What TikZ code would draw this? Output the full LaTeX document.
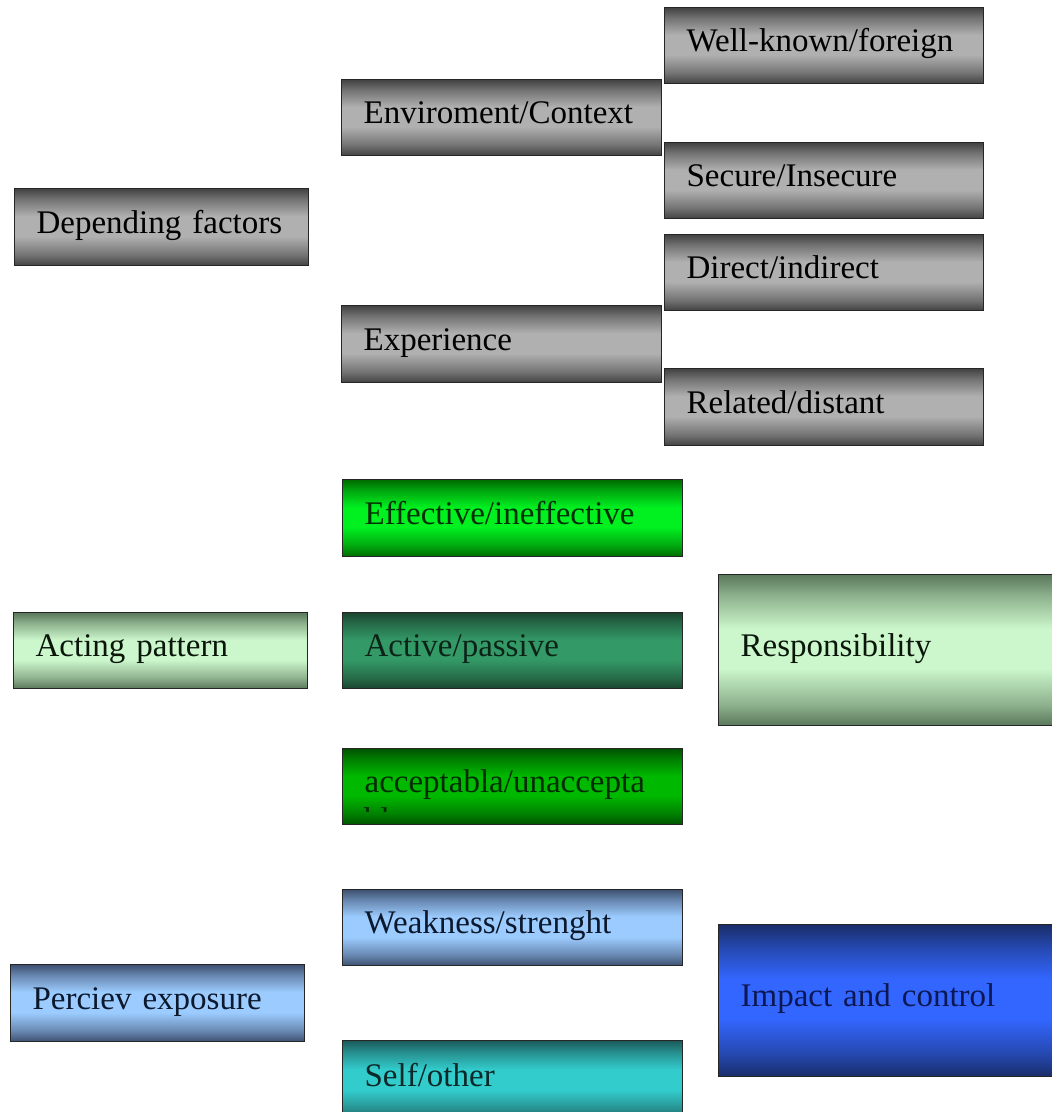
\documentclass[tikz,border=0pt]{standalone}
\usepackage{fontspec}
\setmainfont{Liberation Serif}
\definecolor{grayD}{HTML}{424242}
\definecolor{grayL}{HTML}{B0B0B0}
\definecolor{effD}{HTML}{006A00}
\definecolor{effL}{HTML}{00F020}
\definecolor{actD}{HTML}{1B4430}
\definecolor{actL}{HTML}{339966}
\definecolor{accD}{HTML}{005200}
\definecolor{accL}{HTML}{00B800}
\definecolor{lgD}{HTML}{5A785A}
\definecolor{lgL}{HTML}{CCF7CC}
\definecolor{lbD}{HTML}{3E5070}
\definecolor{lbL}{HTML}{9CCCFF}
\definecolor{tealD}{HTML}{1C5A5A}
\definecolor{tealL}{HTML}{33CCCC}
\definecolor{blD}{HTML}{192D68}
\definecolor{blL}{HTML}{3366FF}
\newcommand\mkshade[3]{\pgfdeclareverticalshading{#1}{100bp}{color(0bp)=(#2); color(25bp)=(#2); color(32bp)=(#2!55!#3); color(44bp)=(#3); color(57bp)=(#3); color(68bp)=(#2!55!#3); color(75bp)=(#2); color(100bp)=(#2)}}
\mkshade{shGray}{grayD}{grayL}
\mkshade{shEff}{effD}{effL}
\mkshade{shAct}{actD}{actL}
\mkshade{shAcc}{accD}{accL}
\mkshade{shLg}{lgD}{lgL}
\mkshade{shLb}{lbD}{lbL}
\mkshade{shTeal}{tealD}{tealL}
\mkshade{shBl}{blD}{blL}
\tikzset{
  box/.style={draw=black!85, line width=1.2pt, anchor=north west, inner xsep=22pt, inner ysep=0pt,
    text height=22pt, text depth=10pt, align=left, font=\fontsize{33}{39}\selectfont},
  bx/.style 2 args={text width=#1pt, minimum height=#2pt},
  fgray/.style={shading=shGray, text=black},
  feff/.style={shading=shEff, text={rgb,255:red,0;green,48;blue,0}},
  fact/.style={shading=shAct, text={rgb,255:red,12;green,36;blue,24}},
  facc/.style={shading=shAcc, text={rgb,255:red,0;green,44;blue,0}},
  flg/.style={shading=shLg, text={rgb,255:red,10;green,22;blue,10}},
  flb/.style={shading=shLb, text={rgb,255:red,12;green,24;blue,44}},
  fteal/.style={shading=shTeal, text={rgb,255:red,12;green,40;blue,40}},
  fbl/.style={shading=shBl, text={rgb,255:red,12;green,24;blue,84}},
}
\begin{document}
\begin{tikzpicture}[x=1pt,y=-1pt]
\useasboundingbox (0,0) rectangle (1052,1112);
\fill[white] (0,0) rectangle (1052,1112);
\clip (0,0) rectangle (1052,1112);
% grey group
\node[box, fgray, bx={250}{77}] (dep) at (14,188) {Depending factors};
\node[box, fgray, bx={276}{76}] (env) at (341,79) {Enviroment/Context};
\node[box, fgray, bx={276}{77}] (exp) at (341,305) {Experience};
\node[box, fgray, bx={275}{76}] (well) at (664,7) {Well-known/foreign};
\node[box, fgray, bx={275}{76}] (sec) at (664,142) {Secure/Insecure};
\node[box, fgray, bx={275}{76}] (dir) at (664,234) {Direct/indirect};
\node[box, fgray, bx={275}{77}] (rel) at (664,368) {Related/distant};
% green group
\node[box, feff, bx={296}{77}] (eff) at (342,479) {Effective/ineffective};
\node[box, fact, bx={296}{76}] (act) at (342,612) {Active/passive};
\node[box, facc, bx={296}{76}] (acc) at (342,748) {acceptabla/unaccepta};
\begin{scope}
  \clip (342,748) rectangle (682,811);
  \node[anchor=base west, inner sep=0pt, font=\fontsize{33}{39}\selectfont,
        text={rgb,255:red,0;green,44;blue,0}] (accb) at (364,830) {ble};
\end{scope}
\node[box, flg, bx={250}{76}] (acting) at (13,612) {Acting pattern};
\node[box, flg, bx={301}{151}] (resp) at (718,574) {Responsibility};
% blue group
\node[box, flb, bx={296}{76}] (weak) at (342,889) {Weakness/strenght};
\node[box, fteal, bx={296}{80}] (selfo) at (342,1040) {Self/other};
\node[box, flb, bx={250}{77}] (perc) at (10,964) {Perciev exposure};
\node[box, fbl, bx={301}{152}] (imp) at (718,924) {Impact and control};
\end{tikzpicture}
\end{document}
